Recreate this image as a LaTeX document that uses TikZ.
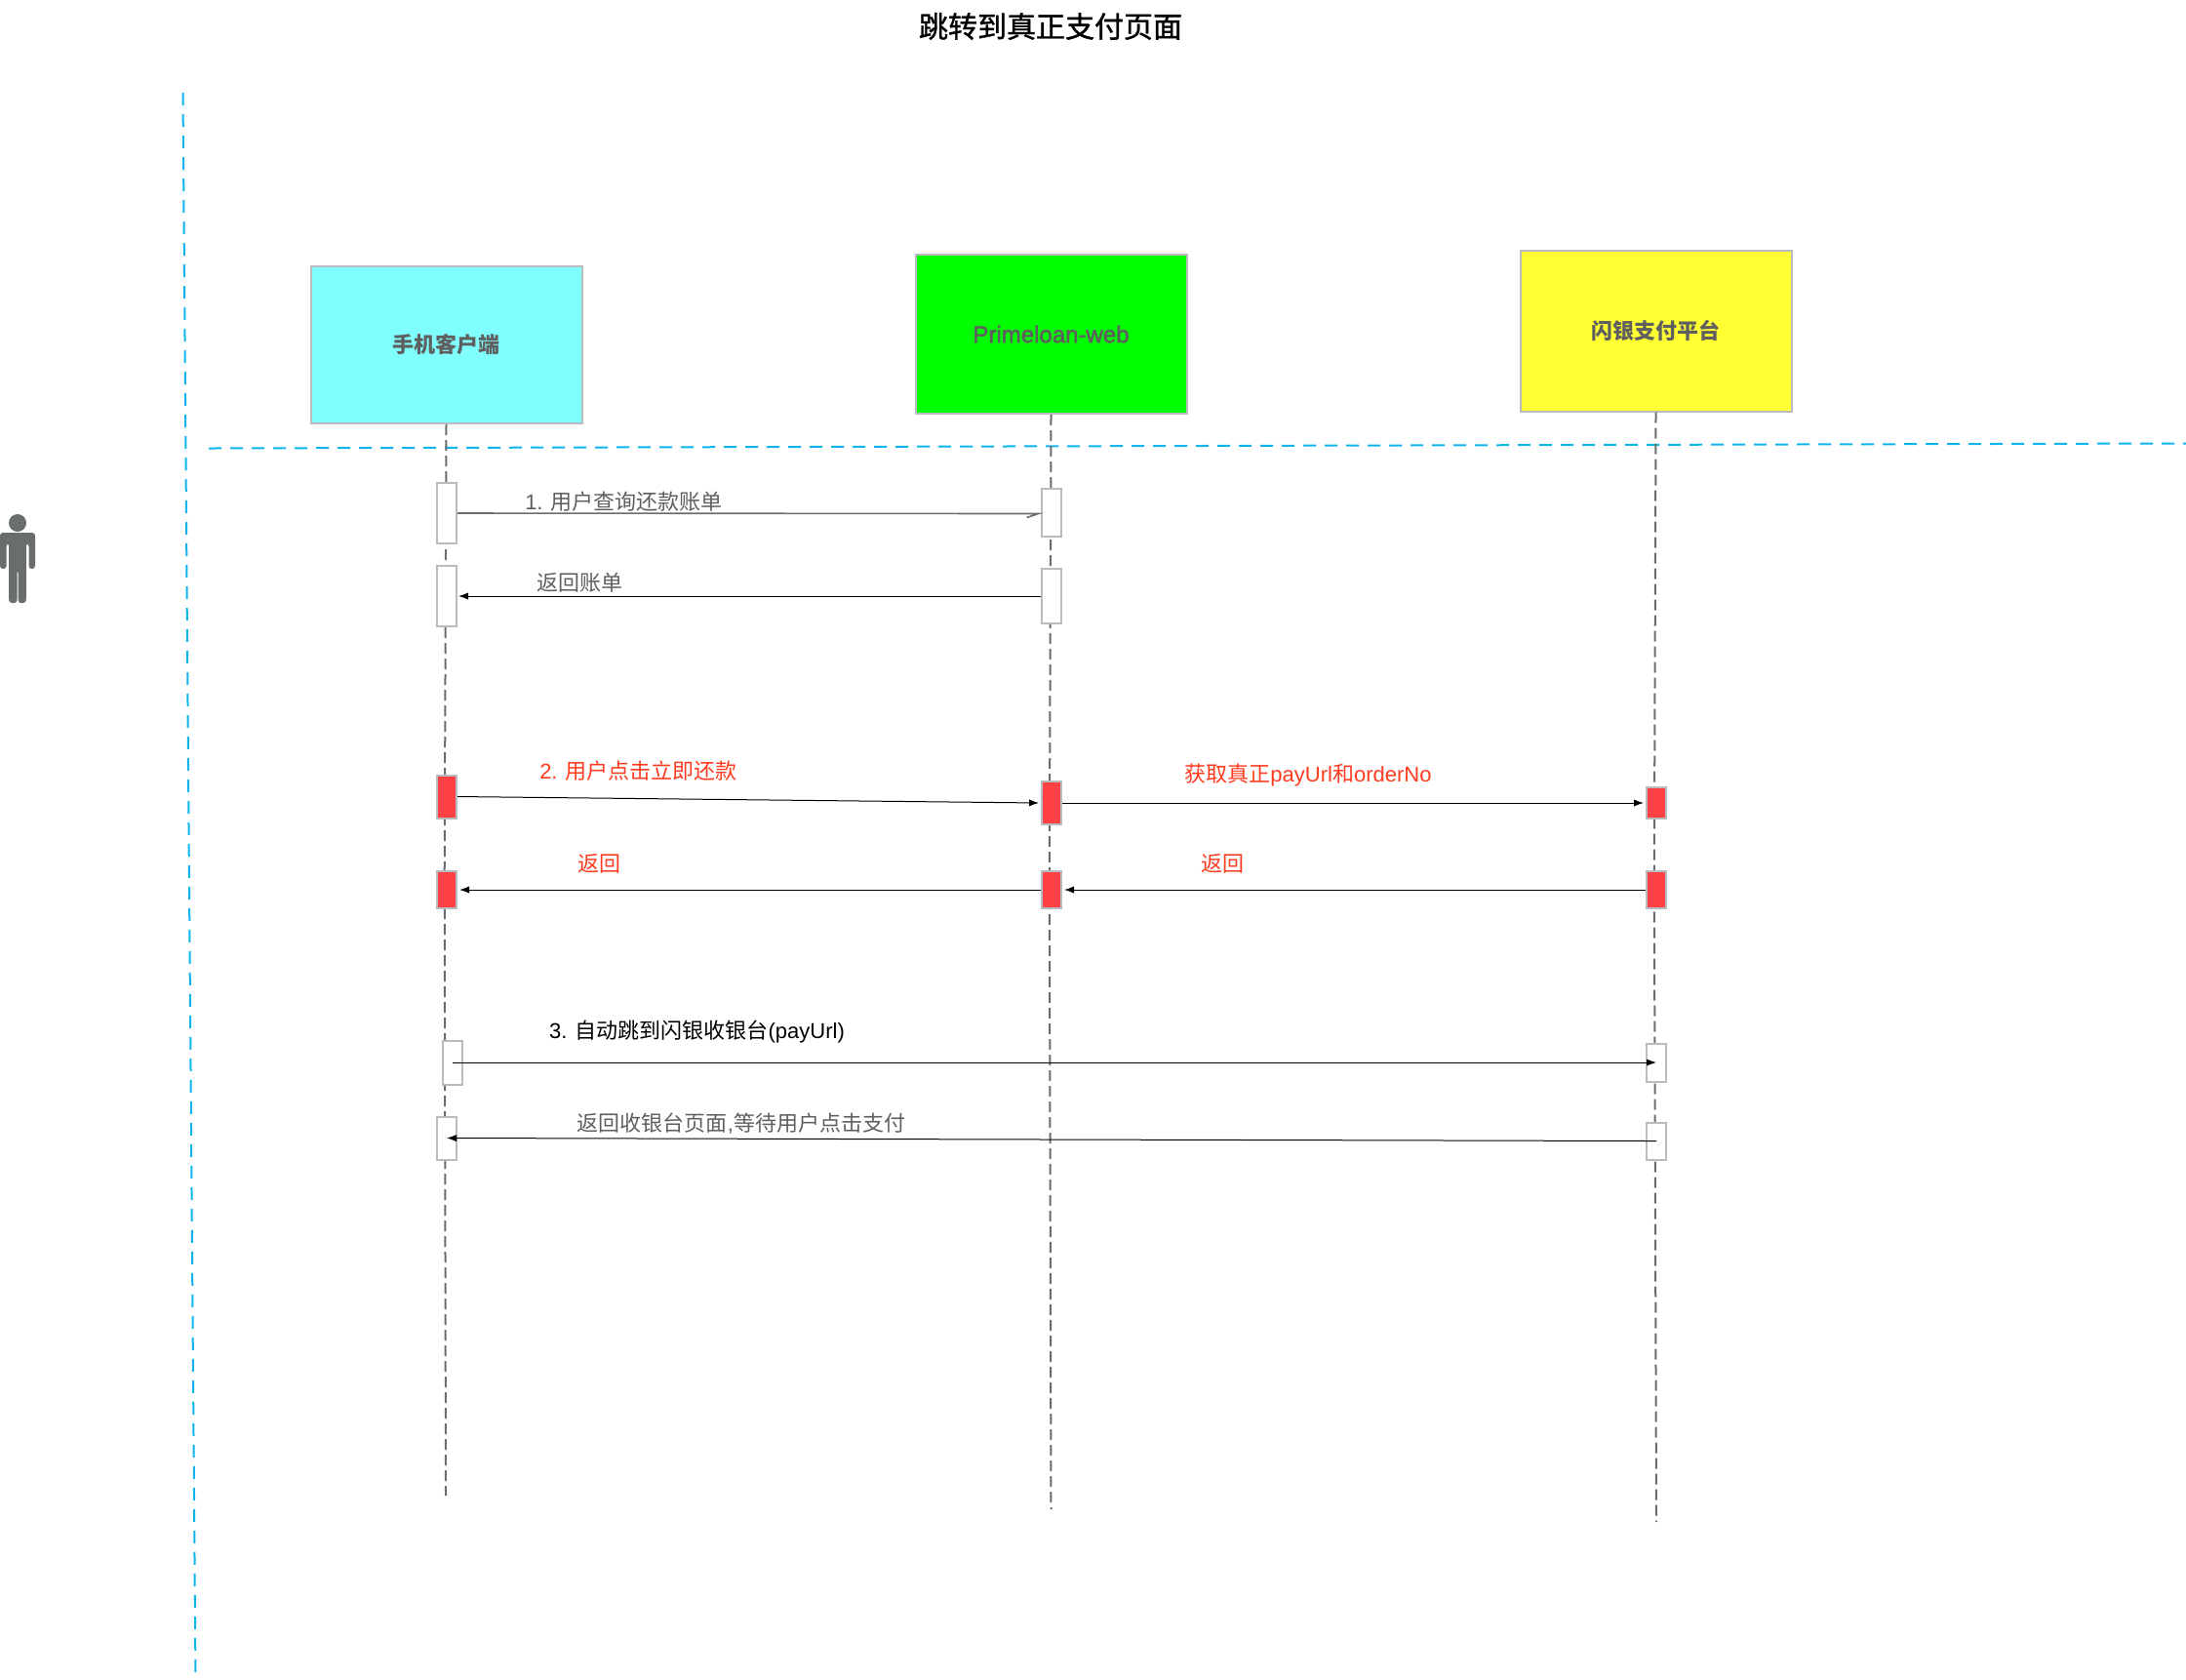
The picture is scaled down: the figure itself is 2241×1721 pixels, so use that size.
\documentclass[tikz,border=0pt]{standalone}
\usepackage{xcolor}
\usepackage{fontspec}
\usepackage{tikz}
\usetikzlibrary{arrows.meta,positioning,calc}
\setmainfont{Liberation Sans}
\newfontfamily\cjk{Noto Sans CJK SC}
\newfontfamily\cjkmedium[FakeBold=1.2]{Noto Sans CJK SC}
\newfontfamily\latinmedium[FakeBold=2.2]{Liberation Sans}
\newcommand{\zh}[1]{{\cjk #1}}
\definecolor{borderGray}{HTML}{B8BCBE}
\definecolor{lineGray}{HTML}{6A6D6E}
\definecolor{textGray}{HTML}{5F5F5F}
\definecolor{laneBlue}{HTML}{10B4EC}
\definecolor{msgRed}{HTML}{FF3B1F}
\definecolor{actRed}{HTML}{FF4146}
\definecolor{boxCyan}{HTML}{80FFFF}
\definecolor{boxYellow}{HTML}{FFFF33}

\begin{document}
\begin{tikzpicture}[
            x=0.5pt, y=-0.5pt,
            font=\fontsize{11pt}{13pt}\selectfont,
            party/.style={draw=borderGray, line width=1pt, rectangle, minimum width=139pt, inner sep=0pt, text=textGray, font=\fontsize{11pt}{13pt}\selectfont},
            act/.style={draw=borderGray, line width=1pt, rectangle, fill=white, minimum width=10pt, inner sep=0pt},
            actred/.style={act, fill=actRed},
            lifeline/.style={draw=lineGray, line width=1pt, dash pattern=on 5.5pt off 2.5pt},
            lane/.style={draw=laneBlue, line width=1pt, dash pattern=on 6.5pt off 4.5pt},
            msg/.style={line width=0.5pt, -{Latex[length=5pt,width=3.6pt]}},
            graylabel/.style={text=textGray, inner sep=0pt},
            redlabel/.style={text=msgRed, inner sep=0pt},
            blacklabel/.style={text=black, inner sep=0pt}
        ]
            \useasboundingbox (0,0) rectangle (2241,1721);

            \node[font=\fontsize{15pt}{18pt}\selectfont] (title) at (1077,27) {\cjkmedium 跳转到真正支付页面};

            % swimlane borders
            \coordinate (laneVTop) at (187.5,95);
            \coordinate (laneVEnd) at (200.5,1721);
            \coordinate (laneHStart) at (214,459.5);
            \coordinate (laneHEnd) at (2241,454.5);
            \draw[lane] (laneVTop) -- (laneVEnd);
            \draw[lane] (laneHStart) -- (laneHEnd);

            % the person on the left
            \node[circle, fill=lineGray, minimum size=9pt, inner sep=0pt] (head) at (18,536) {};
            \fill[lineGray, rounded corners=1.5pt] (0,583) -- (0,546) -- (36,546) -- (36,583) -- (29.5,583) -- (29.5,557) -- (26.8,557) -- (26.8,618) -- (18.5,618) -- (18.5,584) -- (17.5,584) -- (17.5,618) -- (9.2,618) -- (9.2,557) -- (6.6,557) -- (6.6,583) -- cycle;

            \node[party, fill=boxCyan, minimum height=80.5pt] (client) at (457.5,353.5) {\cjk\bfseries 手机客户端};
            \node[party, fill=green, minimum height=81.5pt] (web) at (1077.5,342.5) {\raisebox{-1.5pt}{\fontsize{12pt}{14pt}\selectfont\latinmedium Primeloan-web}};
            \node[party, fill=boxYellow, minimum height=82.5pt] (yin) at (1697.5,339) {\cjk\bfseries 闪银支付平台};

            \coordinate (clientMid) at (455.7,900);
            \coordinate (clientEnd) at (457,1533);
            \coordinate (webMid) at (1075.8,900);
            \coordinate (webEnd) at (1077.5,1547);
            \coordinate (yinMid) at (1695.8,900);
            \coordinate (yinEnd) at (1698,1560);
            \draw[lifeline] (client.south) -- (clientMid) -- (clientEnd);
            \draw[lifeline] (web.south) -- (webMid) -- (webEnd);
            \draw[lifeline] (yin.south) -- (yinMid) -- (yinEnd);

            % query
            \node[act, minimum height=31pt] (clientA) at (458,526) {};
            \node[act, minimum height=24.5pt] (webA) at (1078,525.5) {};
            \node[act, minimum height=31pt] (clientB) at (458,611) {};
            \node[act, minimum height=28pt] (webB) at (1078,611) {};
            % pay
            \node[actred, minimum height=22pt] (clientR) at (458,816.5) {};
            \node[actred, minimum height=22pt] (webR) at (1078,823) {};
            \node[actred, minimum height=16pt] (yinR) at (1698,823) {};
            \node[actred, minimum height=19pt] (clientS) at (458,912) {};
            \node[actred, minimum height=19pt] (webS) at (1078,912) {};
            \node[actred, minimum height=19pt] (yinS) at (1698,912) {};
            % jump
            \node[act, minimum height=22.5pt] (clientC) at (464,1089) {};
            \node[act, minimum height=19.5pt] (yinC) at (1698,1089) {};
            \node[act, minimum height=22pt] (clientD) at (458,1166.5) {};
            \node[act, minimum height=19pt] (yinD) at (1698,1169.5) {};

            \coordinate (webATip) at (1064.5,526.5);
            \coordinate (webABarb) at (1052.5,530.5);
            \draw[draw=lineGray, line width=0.8pt] (clientA.east) -- (webATip) -- (webABarb);
            \draw[msg] (webB.west) -- ($(clientB.east)+(1,0)$);
            \draw[msg, shorten >=1pt] (clientR.east) -- (webR.west);
            \draw[msg, shorten >=1pt] (webR.east) -- (yinR.west);
            \draw[msg, shorten >=1pt] (yinS.west) -- (webS.east);
            \draw[msg, shorten >=1pt] (webS.west) -- (clientS.east);
            \draw[msg] (clientC.center) -- (yinC.center);
            \draw[msg] (yinD.center) -- (clientD.center);

            \node[graylabel] (queryLabel) at (639.5,514) {1. \zh{用户查询还款账单}};
            \node[graylabel] (billLabel) at (594.5,597) {\zh{返回账单}};
            \node[redlabel] (payLabel) at (654.5,790) {2. \zh{用户点击立即还款}};
            \node[redlabel] (urlLabel) at (1341,794.5) {\zh{获取真正}payUrl\zh{和}orderNo};
            \node[redlabel] (backLabelA) at (614,885.5) {\zh{返回}};
            \node[redlabel] (backLabelB) at (1253.5,885.5) {\zh{返回}};
            \node[blacklabel] (jumpLabel) at (714.5,1057) {3. \zh{自动跳到闪银收银台}(payUrl)};
            \node[graylabel] (cashierLabel) at (760,1152) {\zh{返回收银台页面},\zh{等待用户点击支付}};
        \end{tikzpicture}
\end{document}
